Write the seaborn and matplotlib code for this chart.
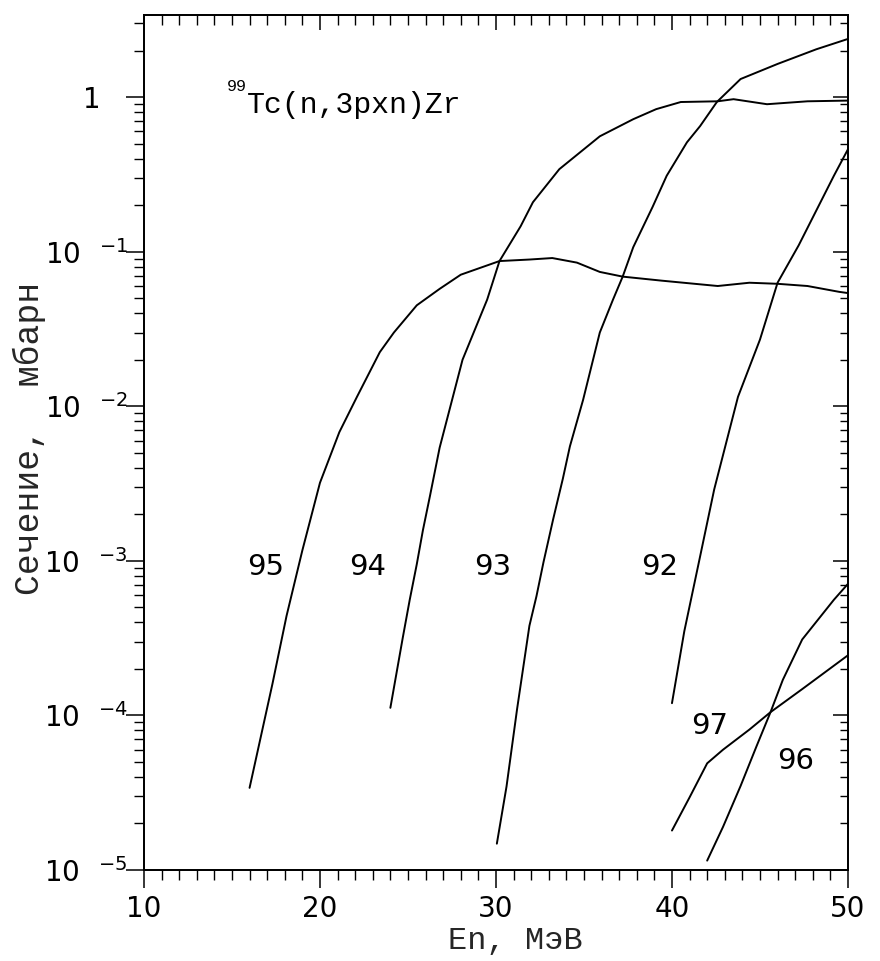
import matplotlib
matplotlib.use("Agg")
import numpy as np
import pandas as pd
import seaborn as sns
import matplotlib.pyplot as plt
from matplotlib.ticker import FixedLocator, FixedFormatter, NullFormatter

# Cross sections (mb) of 99Tc(n,3pxn)Zr for each Zr product, vs neutron energy (MeV)
energy_95 = [16.0, 17.3, 18.1, 19.0, 20.0, 21.1, 22.1, 23.4, 24.2, 25.5, 26.8, 28.0,
             30.2, 31.9, 33.2, 34.6, 35.9, 37.2, 39.4, 42.6, 44.4, 46.0, 47.7, 49.5, 50.0]
sigma_95 = [3.4e-5, 1.6e-4, 4.4e-4, 1.17e-3, 3.2e-3, 6.8e-3, 1.15e-2, 2.24e-2, 3.0e-2,
            4.5e-2, 5.75e-2, 7.1e-2, 8.7e-2, 8.9e-2, 9.1e-2, 8.5e-2, 7.4e-2, 6.9e-2,
            6.5e-2, 6.0e-2, 6.3e-2, 6.2e-2, 6.0e-2, 5.5e-2, 5.4e-2]

energy_94 = [24.0, 24.7, 25.1, 25.5, 25.85, 26.25, 26.8, 28.1, 29.5, 30.2, 31.4, 32.1,
             33.6, 35.9, 37.8, 39.1, 40.5, 42.6, 43.5, 45.4, 47.7, 50.0]
sigma_94 = [1.12e-4, 3.16e-4, 5.6e-4, 9.5e-4, 1.58e-3, 2.63e-3, 5.4e-3, 2.0e-2, 4.9e-2,
            8.7e-2, 0.146, 0.209, 0.342, 0.558, 0.72, 0.836, 0.93, 0.94, 0.97, 0.90,
            0.94, 0.95]

energy_93 = [30.05, 30.6, 31.2, 31.9, 32.3, 32.7, 33.25, 33.8, 34.2, 34.95, 35.9, 36.65,
             37.2, 37.8, 38.9, 39.7, 40.85, 41.6, 42.55, 43.9, 46.0, 48.2, 50.0]
sigma_93 = [1.48e-5, 3.47e-5, 1.10e-4, 3.8e-4, 5.9e-4, 9.8e-4, 1.86e-3, 3.4e-3, 5.5e-3,
            1.10e-2, 3.0e-2, 4.9e-2, 6.9e-2, 0.107, 0.195, 0.31, 0.51, 0.65, 0.93,
            1.31, 1.64, 2.04, 2.38]

energy_92 = [40.0, 40.7, 41.6, 42.4, 43.75, 45.0, 46.0, 47.2, 49.2, 50.0]
sigma_92 = [1.2e-4, 3.5e-4, 1.07e-3, 2.9e-3, 1.15e-2, 2.7e-2, 6.3e-2, 0.11, 0.31, 0.46]

energy_97 = [40.0, 41.0, 42.0, 42.9, 44.4, 45.6, 47.4, 50.0]
sigma_97 = [1.8e-5, 2.95e-5, 4.9e-5, 6.0e-5, 8.1e-5, 1.05e-4, 1.48e-4, 2.45e-4]

energy_96 = [42.0, 42.9, 43.9, 44.8, 45.6, 46.3, 47.4, 49.2, 50.0]
sigma_96 = [1.15e-5, 1.9e-5, 3.5e-5, 6.3e-5, 1.05e-4, 1.7e-4, 3.1e-4, 5.6e-4, 7.1e-4]

mass_numbers = ["95", "94", "93", "92", "97", "96"]
y_tick_values = [1e-5, 1e-4, 1e-3, 1e-2, 1e-1, 1.0]
y_tick_labels = [r"$10^{\ \ \ {-5}}$", r"$10^{\ \ \ {-4}}$", r"$10^{\ \ \ {-3}}$",
                 r"$10^{\ \ \ {-2}}$", r"$10^{\ \ \ {-1}}$", ""]
x_tick_values = [10, 20, 30, 40, 50]

series = {
    "95": (energy_95, sigma_95),
    "94": (energy_94, sigma_94),
    "93": (energy_93, sigma_93),
    "92": (energy_92, sigma_92),
    "97": (energy_97, sigma_97),
    "96": (energy_96, sigma_96),
}
df = pd.concat(
    [pd.DataFrame({"E": e, "sigma": s, "A": a}) for a, (e, s) in series.items()],
    ignore_index=True,
)

sns.set_theme(style="white")
plt.rcParams.update({
    "font.family": ["DejaVu Sans"],
    "mathtext.fontset": "dejavusans",
    "axes.edgecolor": "black",
    "axes.linewidth": 1.1,
    "xtick.color": "black",
    "ytick.color": "black",
    "text.color": "black",
})

fig = plt.figure(figsize=(8.8, 9.61), dpi=100)
ax = fig.add_axes([0.1636, 0.0947, 0.8, 0.8897])

sns.lineplot(data=df, x="E", y="sigma", units="A", estimator=None, sort=False,
             color="black", linewidth=1.4, ax=ax, legend=False)

ax.set_yscale("log")
ylim = (1e-5, 3.4)
xlim = (10, 50)
ax.set_xlim(*xlim)
ax.set_ylim(*ylim)

minor_y = [m * 10.0 ** d for d in range(-5, 1) for m in range(2, 10)]
minor_y = [v for v in minor_y if v < ylim[1]]
minor_x = [v for v in range(10, 51) if v % 10 != 0]

ax.yaxis.set_major_locator(FixedLocator(y_tick_values))
ax.yaxis.set_major_formatter(FixedFormatter(y_tick_labels))
ax.yaxis.set_minor_locator(FixedLocator(minor_y))
ax.yaxis.set_minor_formatter(NullFormatter())
ax.xaxis.set_major_locator(FixedLocator(x_tick_values))
ax.xaxis.set_minor_locator(FixedLocator(minor_x))
ax.xaxis.set_minor_formatter(NullFormatter())

ax.tick_params(which="major", direction="out", length=13, width=1.1,
               labelsize=20, top=False, right=False)
ax.tick_params(axis="x", which="major", pad=5)
ax.tick_params(axis="y", which="major", pad=-1.5)
ax.tick_params(which="minor", direction="out", length=7, width=1.0,
               top=False, right=False)

# The unit label "1" sits a little further out than the powers of ten
ax.text(-0.062, 1.0, "1", transform=ax.get_yaxis_transform(), fontsize=20,
        ha="right", va="center_baseline")

# Inward ticks on the right and top frame edges
axr = ax.twinx()
axr.set_yscale("log")
axr.set_ylim(*ylim)
axr.yaxis.set_major_locator(FixedLocator(y_tick_values))
axr.yaxis.set_minor_locator(FixedLocator(minor_y))
axr.yaxis.set_major_formatter(NullFormatter())
axr.yaxis.set_minor_formatter(NullFormatter())
axr.tick_params(which="major", direction="in", length=11, width=1.1)
axr.tick_params(which="minor", direction="in", length=6, width=1.0)
axr.grid(False)

axt = ax.twiny()
axt.set_xlim(*xlim)
axt.xaxis.set_major_locator(FixedLocator(x_tick_values))
axt.xaxis.set_minor_locator(FixedLocator(minor_x))
axt.xaxis.set_major_formatter(NullFormatter())
axt.xaxis.set_minor_formatter(NullFormatter())
axt.tick_params(which="major", direction="in", length=11, width=1.1)
axt.tick_params(which="minor", direction="in", length=7, width=1.0)
axt.grid(False)

ax.set_xlabel("En, МэВ", family="Liberation Mono", fontsize=23)
ax.xaxis.set_label_coords(0.527, -0.066)
ax.set_ylabel("Сечение,  мбарн", family="Liberation Mono", fontsize=25)
ax.yaxis.set_label_coords(-0.139, 0.505)

# Reaction title
ax.text(0.118, 0.916, "99", transform=ax.transAxes, family="Liberation Mono",
        fontsize=12, ha="left", va="center")
ax.text(0.146, 0.895, "Tc(n,3pxn)Zr", transform=ax.transAxes,
        family="Liberation Mono", fontsize=21.5, ha="left", va="center")

# Curve labels by product mass number
label_pos = {"95": (16.9, 9.1e-4), "94": (22.7, 9.1e-4), "93": (29.8, 9.1e-4),
             "92": (39.3, 9.1e-4), "97": (42.15, 8.5e-5), "96": (47.0, 5.1e-5)}
for a in mass_numbers:
    x, y = label_pos[a]
    ax.text(x, y, a, fontsize=21, ha="center", va="center")

fig.savefig("out.png", dpi=100)
